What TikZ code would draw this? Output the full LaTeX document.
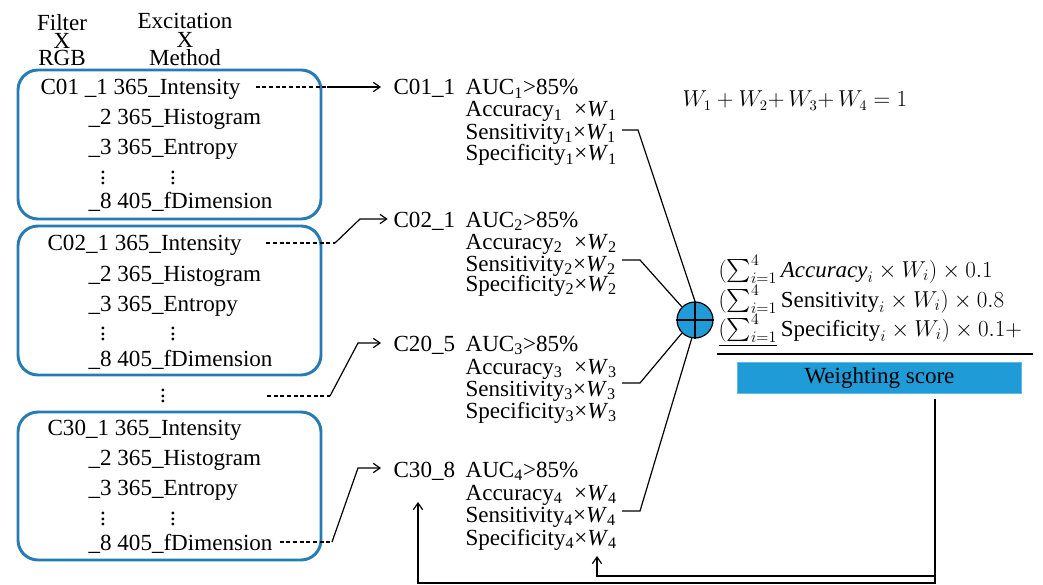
\documentclass[tikz,border=0pt]{standalone}
\usepackage{xcolor}
\usepackage{amsmath}
\usepackage{fontspec}
\setmainfont{Liberation Serif}
\usepackage{tikz}
\usetikzlibrary{arrows.meta}

\definecolor{frameblue}{RGB}{38,124,178}
\definecolor{fillblue}{RGB}{31,155,215}

\tikzset{
  txt/.style={anchor=base west, inner sep=0pt, font=\fontsize{17.3}{20}\selectfont},
  hd/.style={anchor=base, inner sep=0pt, font=\fontsize{17.3}{20}\selectfont},
  dts/.style={inner sep=0pt, font=\fontsize{17.3}{20}\selectfont},
  grp/.style={draw=frameblue, line width=2.2pt, rounded corners=15pt},
  fml/.style={anchor=base west, inner sep=0pt, font=\fontsize{17.2}{20}\selectfont},
  dsh/.style={dash pattern={on 3pt off 2pt}},
}

\begin{document}
\begin{tikzpicture}[x=0.75pt,y=0.75pt,yscale=-1,xscale=1, line width=0.9pt, >={Straight Barb[length=5pt,width=7pt]}]
\useasboundingbox (0,0) rectangle (1043,585);

% Header
\node[hd] (hfa) at (62,31) {Filter};
\node[hd] (hfb) at (62,49) {X};
\node[hd] (hfc) at (62,66) {RGB};
\node[hd] (hea) at (185,29) {Excitation};
\node[hd] (heb) at (185,48) {X};
\node[hd] (hec) at (185,66) {Method};

% Group boxes
\draw[grp] (18,70) rectangle (321,219);
\draw[grp] (18,226) rectangle (321,375);
\draw[grp] (18,412) rectangle (321,560);

% Box C01
\node[txt] (c01a) at (40,95) {C01 \_1 365\_Intensity};
\node[txt] (c01b) at (88,125) {\_2 365\_Histogram};
\node[txt] (c01c) at (88,155) {\_3 365\_Entropy};
\node[dts] (c01v) at (103,174) {$\vdots$};
\node[dts] (c01w) at (173,174) {$\vdots$};
\node[txt] (c01d) at (88,208) {\_8 405\_fDimension};

% Box C02
\node[txt] (c02a) at (47,250) {C02\_1 365\_Intensity};
\node[txt] (c02b) at (88,281) {\_2 365\_Histogram};
\node[txt] (c02c) at (88,311) {\_3 365\_Entropy};
\node[dts] (c02v) at (103,330) {$\vdots$};
\node[dts] (c02w) at (173,330) {$\vdots$};
\node[txt] (c02d) at (88,366) {\_8 405\_fDimension};

\node[dts] (gapv) at (163,392) {$\vdots$};

% Box C30
\node[txt] (c30a) at (47,435) {C30\_1 365\_Intensity};
\node[txt] (c30b) at (88,465) {\_2 365\_Histogram};
\node[txt] (c30c) at (88,495) {\_3 365\_Entropy};
\node[dts] (c30v) at (103,515) {$\vdots$};
\node[dts] (c30w) at (173,515) {$\vdots$};
\node[txt] (c30d) at (88,550) {\_8 405\_fDimension};

% Selected channels
\node[txt] (m1) at (393,95) {C01\_1};
\node[txt] (m1a) at (465,95) {AUC\textsubscript{1}>85\%};
\node[txt] (m1b) at (465,117) {Accuracy\textsubscript{1}~~×\textit{W}\textsubscript{1}};
\node[txt] (m1c) at (465,139) {Sensitivity\textsubscript{1}×\textit{W}\textsubscript{1}};
\node[txt] (m1d) at (465,161) {Specificity\textsubscript{1}×\textit{W}\textsubscript{1}};

\node[txt] (m2) at (393,227) {C02\_1};
\node[txt] (m2a) at (465,227) {AUC\textsubscript{2}>85\%};
\node[txt] (m2b) at (465,249) {Accuracy\textsubscript{2}~~×\textit{W}\textsubscript{2}};
\node[txt] (m2c) at (465,271) {Sensitivity\textsubscript{2}×\textit{W}\textsubscript{2}};
\node[txt] (m2d) at (465,291) {Specificity\textsubscript{2}×\textit{W}\textsubscript{2}};

\node[txt] (m3) at (393,351) {C20\_5};
\node[txt] (m3a) at (465,351) {AUC\textsubscript{3}>85\%};
\node[txt] (m3b) at (465,374) {Accuracy\textsubscript{3}~~×\textit{W}\textsubscript{3}};
\node[txt] (m3c) at (465,396) {Sensitivity\textsubscript{3}×\textit{W}\textsubscript{3}};
\node[txt] (m3d) at (465,418) {Specificity\textsubscript{3}×\textit{W}\textsubscript{3}};

\node[txt] (m4) at (393,477) {C30\_8};
\node[txt] (m4a) at (465,477) {AUC\textsubscript{4}>85\%};
\node[txt] (m4b) at (465,500) {Accuracy\textsubscript{4}~~×\textit{W}\textsubscript{4}};
\node[txt] (m4c) at (465,522) {Sensitivity\textsubscript{4}×\textit{W}\textsubscript{4}};
\node[txt] (m4d) at (465,545) {Specificity\textsubscript{4}×\textit{W}\textsubscript{4}};

% Box to channel connectors
\coordinate (k1) at (327,87);
\draw[dsh, shorten <=11pt] (c01a.east |- k1) -- (k1);
\draw[->, shorten >=9pt] (k1) -- (k1 -| m1.west);

\coordinate (k2a) at (335,243);
\coordinate (k2b) at (360,219);
\draw[dsh, shorten <=18pt] (c02a.east |- k2a) -- (k2a);
\draw[->, shorten >=4pt] (k2a) -- (k2b) -- (k2b -| m2.west);

\coordinate (k3s) at (267,396);
\coordinate (k3a) at (330,396);
\coordinate (k3b) at (358,343);
\draw[dsh] (k3s) -- (k3a);
\draw[->, shorten >=9pt] (k3a) -- (k3b) -- (k3b -| m3.west);

\coordinate (k4a) at (332,542);
\coordinate (k4b) at (358,468);
\draw[dsh, shorten <=5pt] (c30d.east |- k4a) -- (k4a);
\draw[->, shorten >=9pt] (k4a) -- (k4b) -- (k4b -| m4.west);

% Summation
\node[draw, circle, fill=fillblue, minimum size=27pt, inner sep=0pt] (sum) at (695,320) {};
\draw (sum.north) -- (sum.south);
\draw (sum.west) -- (sum.east);

\coordinate (t1a) at (622,130); \coordinate (t1b) at (638,130);
\coordinate (t2a) at (622,260); \coordinate (t2b) at (640,260);
\coordinate (t3a) at (622,383); \coordinate (t3b) at (640,383);
\coordinate (t4a) at (622,511); \coordinate (t4b) at (640,511);
\draw (t1a) -- (t1b) -- (sum.north);
\draw (t2a) -- (t2b) -- (sum.135);
\draw (t3a) -- (t3b) -- (sum.225);
\draw (t4a) -- (t4b) -- (sum.260);

% Weights
\node[fml, font=\fontsize{16.2}{20}\selectfont] (wsum) at (682,107) {$W_1 + W_2{+}\,W_3{+}\,W_4 = 1$};

% Score
\node[fml] (fa) at (718,277) {$(\sum_{i=1}^{4} \mathit{Accuracy}_i \times W_i) \times 0.1$};
\node[fml] (fb) at (718,307) {$(\sum_{i=1}^{4} \mathrm{Sensitivity}_i \times W_i) \times 0.8$};
\node[fml] (fc) at (718,336) {$\underline{(\sum_{i=1}^{4}}\, \mathrm{Specificity}_i \times W_i) \times 0.1 +$};
\draw[line width=1.8pt] (717,354) -- (1033,354);

\node[fill=fillblue, draw=fillblue!70!white, line width=0.5pt, minimum width=213pt, minimum height=23pt, inner sep=0pt, font=\fontsize{17.3}{20}\selectfont] (ws) at (879.5,377.5) {Weighting score};

% Feedback
\coordinate (fbA) at (935,576);
\coordinate (fbB) at (597,576);
\coordinate (tipA) at (597,556);
\coordinate (fbC) at (935,583);
\coordinate (fbD) at (418,583);
\coordinate (tipB) at (418,502);
\draw[->, shorten <=4.5pt] (ws.south -| fbA) -- (fbA) -- (fbB) -- (tipA);
\draw[->] (fbA) -- (fbC) -- (fbD) -- (tipB);

\end{tikzpicture}
\end{document}
